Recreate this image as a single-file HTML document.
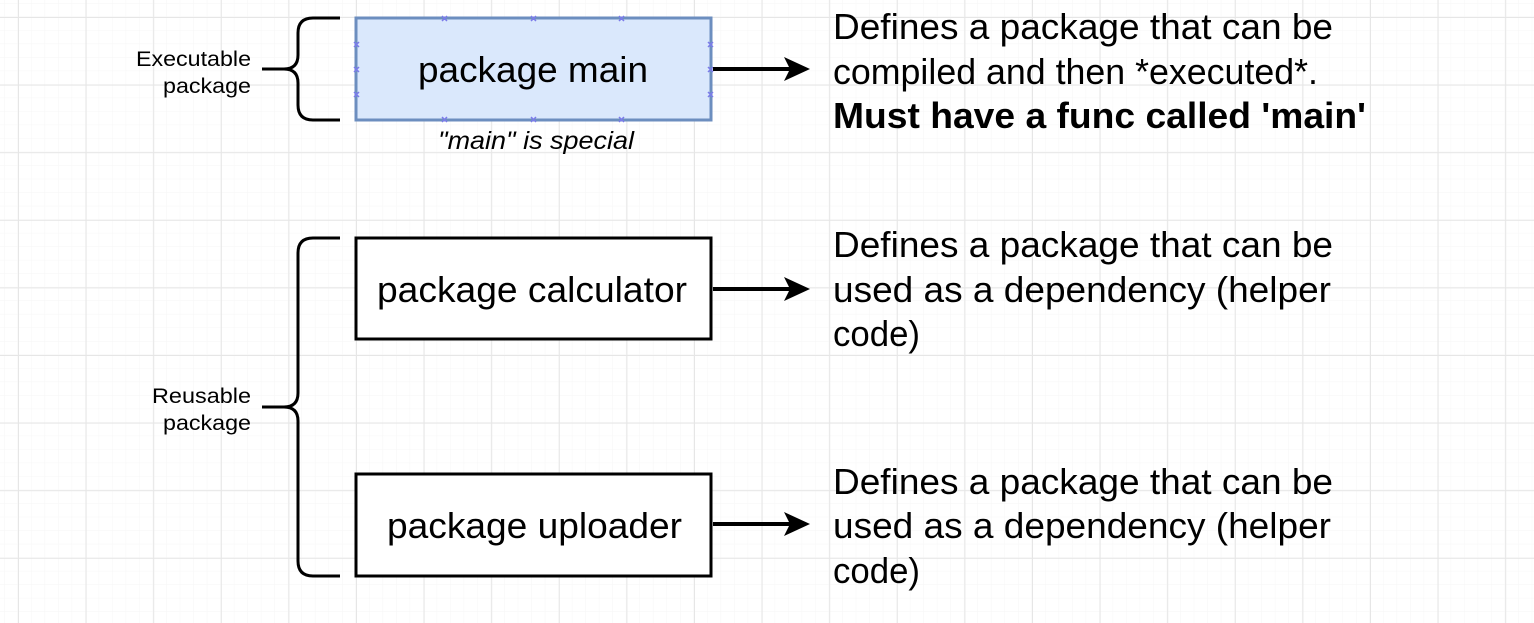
<!DOCTYPE html>
<html><head><style>
html,body{margin:0;padding:0;background:#fff;}
svg{display:block;}
</style></head><body>
<svg width="1534" height="623" xmlns="http://www.w3.org/2000/svg" font-family="Liberation Sans, Arial, sans-serif">
<defs>
<pattern id="mn" width="13.52" height="13.52" patternUnits="userSpaceOnUse" x="18" y="17">
<path d="M13.52 0V13.52M0 13.52H13.52" stroke="#f6f6f6" stroke-width="1" fill="none"/>
</pattern>
<pattern id="mj" width="67.6" height="67.6" patternUnits="userSpaceOnUse" x="18" y="17">
<path d="M0.5 0V67.6M0 0.5H67.6" stroke="#e6e6e6" stroke-width="1" fill="none"/>
</pattern>
</defs>
<rect width="1534" height="623" fill="url(#mn)"/>
<rect width="1534" height="623" fill="url(#mj)"/>

<g fill="none" stroke="#000" stroke-width="3">
<path d="M340 18H313Q298 18 298 33V55Q298 69 284 69H262M284 69Q298 69 298 83V105Q298 120 313 120H340"/>
<path d="M340 238H313Q298 238 298 253V393Q298 407 284 407H262M284 407Q298 407 298 421V561Q298 576 313 576H340"/>
</g>
<g font-size="21" fill="#000" lengthAdjust="spacingAndGlyphs">
<text x="136" y="66" textLength="115" lengthAdjust="spacingAndGlyphs">Executable</text>
<text x="163" y="93" textLength="88" lengthAdjust="spacingAndGlyphs">package</text>
<text x="152" y="403" textLength="99" lengthAdjust="spacingAndGlyphs">Reusable</text>
<text x="163" y="430" textLength="88" lengthAdjust="spacingAndGlyphs">package</text>
</g>

<rect x="356" y="18" width="355" height="102" fill="#dae8fc" stroke="#6c8ebf" stroke-width="3"/>
<rect x="356" y="238" width="355" height="101" fill="#fff" stroke="#000" stroke-width="3"/>
<rect x="356" y="474" width="355" height="102" fill="#fff" stroke="#000" stroke-width="3"/>
<g stroke="#7b7bea" stroke-width="1.5">
<path d="M442 16l5 5M447 16l-5 5M531 16l5 5M536 16l-5 5M619 16l5 5M624 16l-5 5"/>
<path d="M442 117l5 5M447 117l-5 5M531 117l5 5M536 117l-5 5M619 117l5 5M624 117l-5 5"/>
<path d="M354 42l5 5M359 42l-5 5M354 67l5 5M359 67l-5 5M354 92l5 5M359 92l-5 5"/>
<path d="M708 42l5 5M713 42l-5 5M708 67l5 5M713 67l-5 5M708 92l5 5M713 92l-5 5"/>
</g>
<g font-size="36" fill="#000">
<text x="418" y="82" textLength="230" lengthAdjust="spacingAndGlyphs">package main</text>
<text x="377" y="302" textLength="310" lengthAdjust="spacingAndGlyphs">package calculator</text>
<text x="387" y="538" textLength="295" lengthAdjust="spacingAndGlyphs">package uploader</text>
</g>
<text x="438" y="149" font-size="25" font-style="italic" textLength="196" lengthAdjust="spacingAndGlyphs">"main" is special</text>

<g stroke="#000" stroke-width="4">
<path d="M713 69H790M713 289H790M713 524H790"/>
</g>
<g fill="#000">
<path d="M810 69L784 57L790 69L784 81Z"/>
<path d="M810 289L784 277L790 289L784 301Z"/>
<path d="M810 524L784 512L790 524L784 536Z"/>
</g>

<g font-size="36" fill="#000">
<text x="833" y="39" textLength="500" lengthAdjust="spacingAndGlyphs">Defines a package that can be</text>
<text x="833" y="84" textLength="485" lengthAdjust="spacingAndGlyphs">compiled and then *executed*.</text>
<text x="833" y="128" font-weight="bold" textLength="533" lengthAdjust="spacingAndGlyphs">Must have a func called 'main'</text>
<text x="833" y="257" textLength="500" lengthAdjust="spacingAndGlyphs">Defines a package that can be</text>
<text x="833" y="302" textLength="498" lengthAdjust="spacingAndGlyphs">used as a dependency (helper</text>
<text x="833" y="346" textLength="87" lengthAdjust="spacingAndGlyphs">code)</text>
<text x="833" y="494" textLength="500" lengthAdjust="spacingAndGlyphs">Defines a package that can be</text>
<text x="833" y="538" textLength="498" lengthAdjust="spacingAndGlyphs">used as a dependency (helper</text>
<text x="833" y="583" textLength="87" lengthAdjust="spacingAndGlyphs">code)</text>
</g>
</svg>
</body></html>
